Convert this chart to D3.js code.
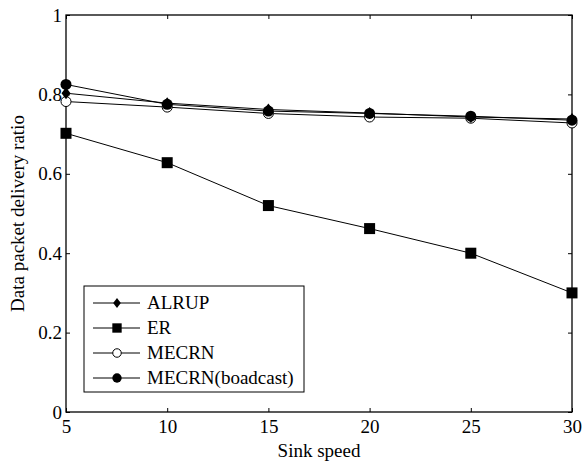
<!DOCTYPE html>
<html>
<head>
<meta charset="utf-8">
<script src="https://cdn.jsdelivr.net/npm/d3@7"></script>
<style>
  body { margin: 0; background: #fff; }
  svg, svg text { font-family: 'Liberation Serif', 'Times New Roman', Times, serif !important; }
</style>
</head>
<body>
<script>
// sink speed vs delivery ratio, four routing schemes
const speeds = [5, 10, 15, 20, 25, 30];
const alrup = [0.803, 0.778, 0.762, 0.753, 0.743, 0.738];
const er = [0.702, 0.628, 0.52, 0.462, 0.40, 0.30];
const mecrn = [0.782, 0.768, 0.752, 0.743, 0.74, 0.728];
const mecrnB = [0.825, 0.775, 0.758, 0.752, 0.745, 0.735];
const seriesNames = ["ALRUP", "ER", "MECRN", "MECRN(boadcast)"];
const xTicks = [5, 10, 15, 20, 25, 30];
const yTicks = [0, 0.2, 0.4, 0.6, 0.8, 1];

const W = 582, H = 463;
const margin = {top: 15, right: 10, bottom: 51, left: 66};
const w = W - margin.left - margin.right;
const h = H - margin.top - margin.bottom;

const svg = d3.select("body").append("svg")
    .attr("width", W).attr("height", H)
    .attr("font-family", "Liberation Serif");
const g = svg.append("g")
    .attr("transform", "translate(" + margin.left + "," + margin.top + ")");

const x = d3.scaleLinear().domain([5, 30]).range([0, w]);
const y = d3.scaleLinear().domain([0, 1]).range([h, 0]);

// frame
g.append("rect").attr("width", w).attr("height", h)
    .attr("fill", "none").attr("stroke", "#000").attr("stroke-width", 1.3);

// axes, ticks point inward
const fmt = d => d === 0 || d === 1 ? d3.format("d")(d) : d3.format(".1f")(d);
g.append("g").attr("transform", "translate(0," + h + ")")
    .call(d3.axisBottom(x).tickValues(xTicks).tickSize(-4).tickPadding(8))
    .call(a => a.select(".domain").remove());
g.append("g")
    .call(d3.axisTop(x).tickValues(xTicks).tickSize(-4).tickFormat(""))
    .call(a => a.select(".domain").remove());
g.append("g")
    .call(d3.axisLeft(y).tickValues(yTicks).tickSize(-4).tickPadding(4).tickFormat(fmt))
    .call(a => a.select(".domain").remove());
g.append("g").attr("transform", "translate(" + w + ",0)")
    .call(d3.axisRight(y).tickValues(yTicks).tickSize(-4).tickFormat(""))
    .call(a => a.select(".domain").remove());
g.selectAll("g").attr("font-family", null).attr("font-size", null);
g.selectAll(".tick text").style("font-size", "19px").attr("fill", "#000");
g.selectAll(".tick line").attr("stroke", "#000");

// axis titles
svg.append("text").text("Sink speed")
    .attr("x", margin.left + w / 2).attr("y", 457)
    .attr("text-anchor", "middle").style("font-size", "19px");
svg.append("text").text("Data packet delivery ratio")
    .attr("transform", "translate(24," + (margin.top + h / 2) + ") rotate(-90)")
    .attr("text-anchor", "middle").style("font-size", "19px");

const allSeries = [alrup, er, mecrn, mecrnB];
const line = d3.line().x((d, i) => x(speeds[i])).y(d => y(d));

function drawMarker(sel, k, s) {
    s = s || 1;
    if (k === 0) {
        sel.append("path").attr("d", "M0," + (-6 * s) + "L" + (4.5 * s) + ",0L0," + (6 * s) + "L" + (-4.5 * s) + ",0Z")
            .attr("fill", "#000");
    } else if (k === 1) {
        sel.append("rect").attr("x", -5.5 * s).attr("y", -5.5 * s)
            .attr("width", 11 * s).attr("height", 11 * s).attr("fill", "#000");
    } else if (k === 2) {
        sel.append("circle").attr("r", 5 * s).attr("fill", "#fff")
            .attr("stroke", "#000").attr("stroke-width", 1);
    } else {
        sel.append("circle").attr("r", 5.5 * s).attr("fill", "#000");
    }
}

// open circles first so the filled ones sit on top
[2, 0, 3, 1].forEach(k => {
    const vals = allSeries[k];
    g.append("path").datum(vals).attr("d", line)
        .attr("fill", "none").attr("stroke", "#000").attr("stroke-width", 1);
    vals.forEach((v, i) => {
        const m = g.append("g")
            .attr("transform", "translate(" + x(speeds[i]) + "," + y(v) + ")");
        drawMarker(m, k);
    });
});

// legend
const lg = svg.append("g").attr("transform", "translate(84,286)");
lg.append("rect").attr("width", 220).attr("height", 106)
    .attr("fill", "#fff").attr("stroke", "#000").attr("stroke-width", 1);
seriesNames.forEach((name, k) => {
    const yy = 17 + k * 25;
    lg.append("line").attr("x1", 9).attr("x2", 56).attr("y1", yy).attr("y2", yy)
        .attr("stroke", "#000").attr("stroke-width", 1);
    const m = lg.append("g").attr("transform", "translate(33," + yy + ")");
    drawMarker(m, k, 0.85);
    lg.append("text").text(name).attr("x", 63).attr("y", yy + 6)
        .style("font-size", "19px");
});
</script>
</body>
</html>
